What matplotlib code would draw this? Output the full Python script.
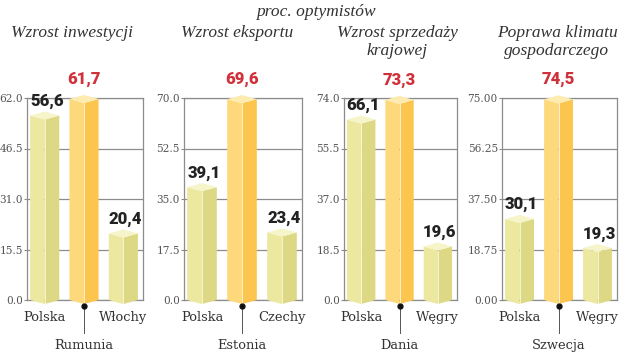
import matplotlib
matplotlib.use("Agg")
import matplotlib.pyplot as plt
from matplotlib.patches import Polygon

# data
titles = ["Wzrost inwestycji", "Wzrost eksportu", "Wzrost sprzedaży\nkrajowej", "Poprawa klimatu\ngospodarczego"]
countries = [["Polska", "Rumunia", "Włochy"],
             ["Polska", "Estonia", "Czechy"],
             ["Polska", "Dania", "Węgry"],
             ["Polska", "Szwecja", "Węgry"]]
values = [[56.6, 61.7, 20.4],
          [39.1, 69.6, 23.4],
          [66.1, 73.3, 19.6],
          [30.1, 74.5, 19.3]]
y_max = [62.0, 70.0, 74.0, 75.0]
tick_decimals = [1, 1, 1, 2]
subtitle = "proc. optymistów"
highlight = 1  # middle bar in every panel

# layout (pixels on a 640x352 canvas)
W, H = 640, 352
axes_px = [(27, 143), (184, 302), (344, 457), (502, 617)]
title_x = [72, 237, 397, 557]
ax_top, ax_bottom = 98, 300

normal_cols = ("#ece8a0", "#dcd884", "#f6f4c9")
high_cols = ("#fdd97c", "#fbc54e", "#feebb0")
grid_col = "#8c8c8c"

fig = plt.figure(figsize=(W / 100, H / 100), dpi=100)

fig.text(316 / W, 1 - 12 / H, subtitle, ha="center", va="center",
         family="Liberation Serif", style="italic", fontsize=12.5, color="#333333")


def bar3d(ax, x, v, width, depth, cols):
    x0, x1 = x - width / 2, x + width / 2
    left = [(x0, 0), (x0, v), (x, v - depth), (x, -depth)]
    right = [(x, -depth), (x, v - depth), (x1, v), (x1, 0)]
    top = [(x0, v), (x, v + depth), (x1, v), (x, v - depth)]
    for pts, c in zip((left, right, top), cols):
        ax.add_patch(Polygon(pts, closed=True, facecolor=c, edgecolor="none",
                             zorder=3, clip_on=False))
    ax.plot([x, x], [-depth, v - depth], color="#fbf8e0", lw=0.6, zorder=4, clip_on=False)


for k in range(4):
    lpx, rpx = axes_px[k]
    ax = fig.add_axes([lpx / W, 1 - ax_bottom / H, (rpx - lpx) / W, (ax_bottom - ax_top) / H])
    ym = y_max[k]
    ax.set_xlim(-0.45, 2.5)
    ax.set_ylim(0, ym)
    ticks = [ym * j / 4 for j in range(5)]
    ax.set_yticks(ticks)
    ax.set_yticklabels([f"{t:.{tick_decimals[k]}f}" for t in ticks],
                       family="DejaVu Serif", fontsize=7.6, color="#555555")
    ax.tick_params(axis="y", length=2.5, width=0.8, color=grid_col, pad=0.5)
    ax.set_xticks([])
    ax.grid(axis="y", color=grid_col, lw=0.9, zorder=1)
    ax.set_axisbelow(True)
    for s in ax.spines.values():
        s.set_color(grid_col)
        s.set_linewidth(0.9)

    depth = 0.02 * ym
    trans = ax.get_xaxis_transform()
    for i, v in enumerate(values[k]):
        hl = i == highlight
        bar3d(ax, i, v, 0.74, depth, high_cols if hl else normal_cols)
        ax.annotate(f"{v:.1f}".replace(".", ","), xy=(i, v),
                    xytext=(0, 11) if hl else (1.5, 7),
                    textcoords="offset points", ha="center", va="baseline",
                    family="Roboto", weight="heavy", fontsize=12,
                    color="#d0303a" if hl else "#222222",
                    annotation_clip=False, zorder=5)
        if hl:
            ax.plot([i], [-0.03], marker="o", ms=3.5, color="#111111",
                    transform=trans, clip_on=False, zorder=5)
            ax.plot([i, i], [-0.03, -0.165], color="#555555", lw=0.7,
                    transform=trans, clip_on=False)
            ax.text(i, -0.225, countries[k][i], transform=trans, ha="center", va="center",
                    family="DejaVu Serif", fontsize=9.4, color="#333333")
        else:
            ax.text(i, -0.085, countries[k][i], transform=trans, ha="center", va="center",
                    family="DejaVu Serif", fontsize=9.4, color="#333333")

    for j, line in enumerate(titles[k].split("\n")):
        fig.text(title_x[k] / W, 1 - (33 + 18 * j) / H, line, ha="center", va="center",
                 family="Liberation Serif", style="italic", fontsize=12.5, color="#333333")

fig.savefig("out.png", dpi=100, facecolor="white")
